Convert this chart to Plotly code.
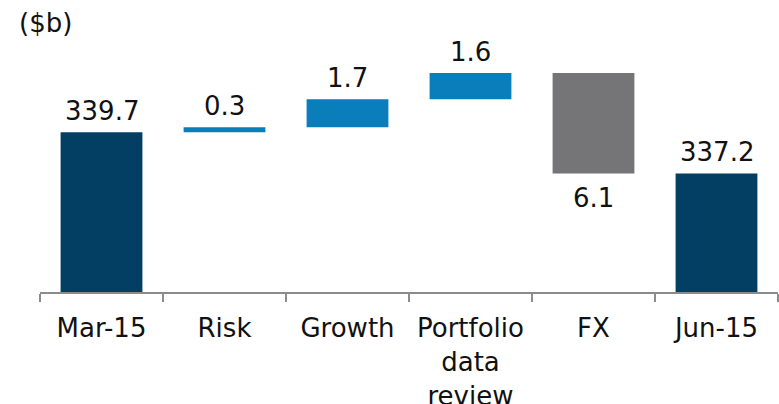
import plotly.graph_objects as go

categories = ["Mar-15", "Risk", "Growth", "Portfolio<br>data<br>review", "FX", "Jun-15"]
values = [339.7, 0.3, 1.7, 1.6, -6.1, 337.2]
kinds = ["total", "relative", "relative", "relative", "relative", "total"]
labels = ["339.7", "0.3", "1.7", "1.6", "6.1", "337.2"]

AXIS_MIN = 330
AXIS_MAX = 345

NAVY = "#023f62"
BLUE = "#0a7dbb"
GREY = "#757577"
FONT = "DejaVu Sans"
FS = 26

bases, heights, colors, tops, bottoms = [], [], [], [], []
running = 0.0
for v, k in zip(values, kinds):
    if k == "total":
        base = AXIS_MIN
        h = v - AXIS_MIN
        running = v
        col = NAVY
    else:
        base = running
        h = v
        running = running + v
        col = BLUE if v >= 0 else GREY
    bases.append(base)
    heights.append(h)
    colors.append(col)
    tops.append(max(base, base + h))
    bottoms.append(min(base, base + h))

fig = go.Figure()
fig.add_trace(go.Bar(
    x=categories, y=heights, base=bases,
    marker=dict(color=colors, line=dict(width=0)),
    width=0.665, hoverinfo="skip", showlegend=False,
))

for i, (c, v) in enumerate(zip(categories, values)):
    if v >= 0 or kinds[i] == "total":
        fig.add_annotation(x=c, y=tops[i], text=labels[i], showarrow=False,
                           yanchor="bottom", yshift=4,
                           font=dict(family=FONT, size=FS, color="#111111"))
    else:
        fig.add_annotation(x=c, y=bottoms[i], text=labels[i], showarrow=False,
                           yanchor="top", yshift=-8,
                           font=dict(family=FONT, size=FS, color="#111111"))

fig.add_annotation(xref="paper", yref="paper", x=-0.031, y=1.157,
                   xanchor="left", yanchor="top", text="($b)", showarrow=False,
                   font=dict(family=FONT, size=FS, color="#111111"))

fig.update_layout(
    width=779, height=404,
    margin=dict(l=40, r=1, t=45, b=112, autoexpand=False),
    paper_bgcolor="white", plot_bgcolor="white",
    font=dict(family=FONT, size=FS, color="#111111"),
    bargap=0.335,
)
fig.update_xaxes(
    type="category", range=[-0.5, 5.5], tickson="boundaries",
    ticks="outside", ticklen=8, tickwidth=1.5, tickcolor="#8c8c8c",
    showline=True, linecolor="#8c8c8c", linewidth=1.5,
    showgrid=False, zeroline=False, automargin=False,
    ticklabelstandoff=12,
    tickfont=dict(family=FONT, size=FS, color="#111111"),
)
fig.update_yaxes(range=[AXIS_MIN, AXIS_MAX], visible=False, showgrid=False,
                 automargin=False)

fig.write_html(
    "out.html",
    config={"displayModeBar": False},
    post_script="document.body.style.margin='0';document.body.style.overflow='hidden';",
)
